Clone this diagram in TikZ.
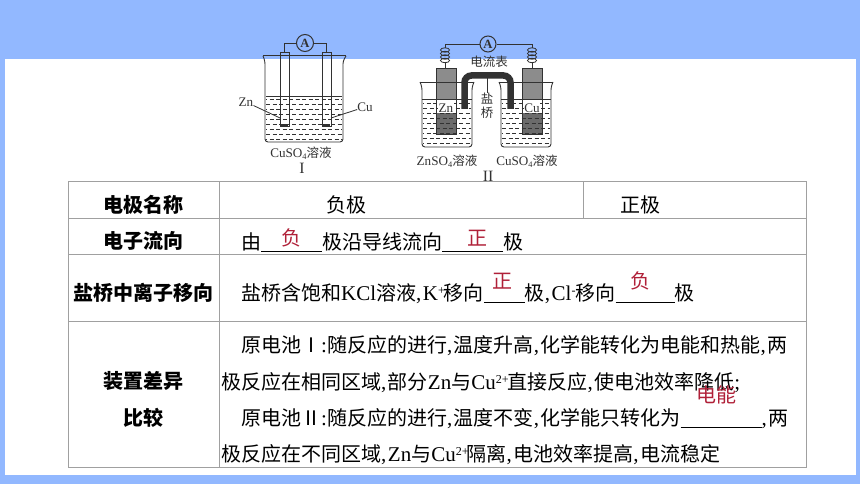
\documentclass[tikz,border=0pt]{standalone}
\usepackage{fontspec}
\setmainfont{Liberation Serif}[Scale=1.05]
\newfontfamily\cjk{Noto Sans CJK SC}
\definecolor{bandblue}{RGB}{146,184,255}
\definecolor{answerred}{RGB}{176,32,56}
\definecolor{gridgray}{RGB}{160,160,160}
\definecolor{inkgray}{RGB}{50,50,50}
\newcommand{\zh}[1]{{\cjk #1}}
\newcommand{\cma}{,\hspace{1.5pt}}
\newcommand{\blank}[1]{\rule[-3pt]{#1}{0.8pt}}
\newcommand{\sps}[1]{\raisebox{6pt}{\fontsize{11.5}{11.5}\selectfont #1}}
\newcommand{\sbs}[1]{\raisebox{-2pt}{\fontsize{8}{8}\selectfont #1}}
\tikzset{
    body/.style={inner sep=0pt, anchor=base west, font=\fontsize{20}{24}\selectfont},
    head/.style={inner sep=0pt, font=\cjk\bfseries\fontsize{20}{24}\selectfont},
    cell/.style={inner sep=0pt, font=\cjk\fontsize{20}{24}\selectfont},
    answer/.style={inner sep=0pt, text=answerred, font=\cjk\fontsize{20}{24}\selectfont},
    small/.style={inner sep=0pt, text=inkgray, font=\fontsize{12.5}{14}\selectfont},
    cellmark/.style={inner sep=0pt, text=inkgray, font=\fontsize{15}{15}\selectfont},
    meter/.style={shape=circle, draw=inkgray, line width=1pt, inner sep=0pt, minimum size=17pt, font=\bfseries\fontsize{12}{12}\selectfont, text=inkgray},
    wire/.style={draw=inkgray, line width=0.8pt},
    rodthin/.style={shape=rectangle, draw=inkgray, line width=1pt, inner sep=0pt, minimum width=9pt, minimum height=74pt},
    rodwide/.style={shape=rectangle, draw=inkgray, line width=0.9pt, inner sep=0pt, minimum width=20pt, minimum height=66pt},
    liquid/.style={draw=inkgray, line width=0.8pt, dash pattern=on 4pt off 2.5pt},
    glass/.style={draw=inkgray, line width=0.9pt, rounded corners=3pt},
}
\begin{document}
\begin{tikzpicture}[x=1pt,y=-1pt]
    \useasboundingbox (0,0) rectangle (860,484);
    \fill[bandblue] (0,0) rectangle (860,484);
    \fill[white] (4.5,59) rectangle (856,475);

    % cell I
    \foreach \yy [count=\i] in {99,104,...,139}
        \draw[liquid, dash phase={mod(\i,2)*3pt}] (266,\yy) -- (342,\yy);
    \draw[wire] (266,96) -- (342,96);
    \draw[glass] (263,56) -- (265,61) -- (265,142) -- (343,142) -- (343,61) -- (346,56);
    \draw[wire, line width=1pt] (263,56) -- (346,56);
    \node[rodthin] (rodZnA) at (284.5,90) {};
    \node[rodthin] (rodCuA) at (326.5,90) {};
    \fill[inkgray] (281,124) rectangle (288,127);
    \fill[inkgray] (323,124) rectangle (330,127);
    \node[meter] (meterA) at (305,43) {A};
    \draw[wire] (meterA) -| (rodZnA);
    \draw[wire] (meterA) -| (rodCuA);
    \node[small] (labZnA) at (246,102) {Zn};
    \node[small] (labCuA) at (365,107) {Cu};
    \coordinate (tipZnA) at (280,118);
    \coordinate (tipCuA) at (331,118);
    \draw[wire] (labZnA) -- (tipZnA);
    \draw[wire] (labCuA) -- (tipCuA);
    \node[small] (nameA) at (301,153) {CuSO\sbs{4}\zh{溶液}};
    \node[cellmark] (markA) at (302,168) {I};

    % cell II
    \foreach \xx in {436,522} {
        \fill[black!45] (\xx,68) rectangle (\xx+20,99);
        \fill[black!58] (\xx,113) rectangle (\xx+20,134);
    }
    \foreach \xx in {422,501} {
        \foreach \yy [count=\i] in {103,108,...,143}
            \draw[liquid, dash phase={mod(\i,2)*3pt}] (\xx+1,\yy) -- (\xx+49,\yy);
        \draw[wire] (\xx,99) -- (\xx+50,99);
        \draw[glass] (\xx-2,82) -- (\xx,87) -- (\xx,147) -- (\xx+50,147) -- (\xx+50,87) -- (\xx+52,82);
        \draw[wire] (\xx-2,82) -- (\xx+52,82);
    }
    \node[rodwide] (rodZnB) at (446,101) {};
    \node[rodwide] (rodCuB) at (532,101) {};
    \draw[inkgray, line width=6.5pt, rounded corners=7pt] (464.5,109) -- (464.5,75.5) -- (510.5,75.5) -- (510.5,109);
    \node[meter, minimum size=16pt] (meterB) at (488,44) {A};
    \coordinate (wireZnB) at (445,48);
    \coordinate (wireCuB) at (532,48);
    \coordinate (coilZnB) at (445,62);
    \coordinate (coilCuB) at (532,62);
    \draw[wire] (meterB) -- (445,44) -- (wireZnB);
    \draw[wire] (meterB) -- (532,44) -- (wireCuB);
    \foreach \xx in {445,532}
        \foreach \yy in {50,53.5,57,60.5}
            \draw[inkgray, line width=0.8pt] (\xx,\yy) ellipse (4.5 and 2.2);
    \draw[wire] (coilZnB) -- (rodZnB.north -| coilZnB);
    \draw[wire] (coilCuB) -- (rodCuB.north);
    \node[small, fill=white, inner sep=0.5pt] (labZnB) at (446,108) {Zn};
    \node[small, fill=white, inner sep=0.5pt] (labCuB) at (532,108) {Cu};
    \node[small] (labMeter) at (489,62) {\zh{电流表}};
    \node[small] (labSalt) at (487,99) {\zh{盐}};
    \node[small] (labBridge) at (487,113) {\zh{桥}};
    \coordinate (bridgeTop) at (487,76);
    \draw[wire] (bridgeTop) -- (labSalt);
    \node[small] (nameZnB) at (447,161) {ZnSO\sbs{4}\zh{溶液}};
    \node[small] (nameCuB) at (527,161) {CuSO\sbs{4}\zh{溶液}};
    \node[cellmark] (markB) at (488,176) {II};

    % table
    \draw[gridgray, line width=1pt] (68,182) rectangle (806,467);
    \foreach \yy in {218,254,321}
        \draw[gridgray, line width=1pt] (68,\yy) -- (806,\yy);
    \draw[gridgray, line width=1pt] (219,182) -- (219,467);
    \draw[gridgray, line width=1pt] (583,182) -- (583,218);

    \node[head] (headName) at (143,204.5) {电极名称};
    \node[head] (headFlow) at (143,241) {电子流向};
    \node[head] (headIon) at (143,293) {盐桥中离子移向};
    \node[head] (headDiffA) at (143,381) {装置差异};
    \node[head] (headDiffB) at (143,418) {比较};
    \node[cell] (neg) at (346,205) {负极};
    \node[cell] (pos) at (640,205) {正极};

    \node[body] (flowLine) at (241,249) {\zh{由}\blank{61pt}\zh{极沿导线流向}\blank{61pt}\zh{极}};
    \node[body] (ionLine) at (241,300) {\zh{盐桥含饱和}KCl\zh{溶液}\cma K\sps{+}\hspace{-1pt}\zh{移向}\blank{41pt}\zh{极}\cma Cl\sps{-}\zh{移向}\blank{59pt}\zh{极}};
    \node[body] (diffA) at (241,352) {\zh{原电池Ⅰ}:\zh{随反应的进行}\cma\zh{温度升高}\cma\zh{化学能转化为电能和热能}\cma\zh{两}};
    \node[body] (diffB) at (221,389) {\zh{极反应在相同区域}\cma\zh{部分}Zn\zh{与}Cu\sps{2+}\hspace{-1pt}\zh{直接反应}\cma\zh{使电池效率降低};};
    \node[body] (diffC) at (241,425) {\zh{原电池Ⅱ}:\zh{随反应的进行}\cma\zh{温度不变}\cma\zh{化学能只转化为}\blank{81pt}\cma\zh{两}};
    \node[body] (diffD) at (221,461) {\zh{极反应在不同区域}\cma Zn\zh{与}Cu\sps{2+}\hspace{-2pt}\zh{隔离}\cma\zh{电池效率提高}\cma\zh{电流稳定}};

    \node[answer] (ansA) at (291,238) {负};
    \node[answer] (ansB) at (477,238) {正};
    \node[answer] (ansC) at (502,281) {正};
    \node[answer] (ansD) at (640,281) {负};
    \node[answer] (ansE) at (716,395) {电能};
\end{tikzpicture}
\end{document}
